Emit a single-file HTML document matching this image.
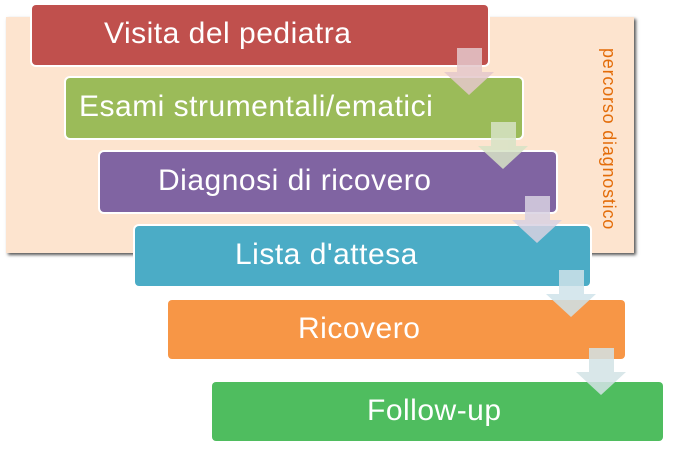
<!DOCTYPE html>
<html><head><meta charset="utf-8"><style>
body{margin:0;width:673px;height:450px;background:#fff;position:relative;overflow:hidden;font-family:"Liberation Sans",sans-serif}
.bg{position:absolute;left:6px;top:17px;width:628px;height:236px;background:#fde4cf;box-shadow:2px 2px 3px #555}
.b{position:absolute;width:456px;height:60px;border-radius:4px;color:#fff;font-size:30px;line-height:58px;box-shadow:0 0 0 2px #fff;letter-spacing:0.5px;white-space:nowrap}
.v{position:absolute;left:619px;top:48px;transform-origin:0 0;transform:rotate(90deg);color:#e36c09;font-size:18px;letter-spacing:0.8px;white-space:nowrap}
svg{position:absolute;left:0;top:0}
</style></head><body>
<div class="bg"></div>
<div class="v">percorso diagnostico</div>
<div class="b" style="left:32px;top:5px;background:#c0504d;"><span style="position:absolute;left:72px">Visita del pediatra</span></div>
<div class="b" style="left:66px;top:78px;background:#9bbb59;"><span style="position:absolute;left:13px">Esami strumentali/ematici</span></div>
<div class="b" style="left:100px;top:152px;background:#8064a2;"><span style="position:absolute;left:58px">Diagnosi di ricovero</span></div>
<div class="b" style="left:135px;top:226px;width:455px;background:#4bacc6;"><span style="position:absolute;left:100px">Lista d'attesa</span></div>
<div class="b" style="left:168px;top:300px;width:457px;height:59px;background:#f79646;box-shadow:none"><span style="position:absolute;left:130px">Ricovero</span></div>
<div class="b" style="left:212px;top:382px;width:451px;height:59px;background:#4fbd5f;box-shadow:none"><span style="position:absolute;left:155px">Follow-up</span></div>
<svg width="673" height="450">
<g opacity="0.85">
<path d="M457 48h25v24h12l-25 23l-25-23h13z" fill="#e5c8cc"/>
<path d="M491 122h25v24h12l-25 23l-25-23h13z" fill="#d7e3c6"/>
<path d="M525 196h25v24h12l-25 23l-25-23h13z" fill="#d9d2e2"/>
<path d="M559 270h25v24h12l-25 23l-25-23h13z" fill="#cfe3ea"/>
<path d="M589 348h25v24h12l-25 23l-25-23h13z" fill="#d3e3e6"/>
</g>
</svg>
</body></html>
